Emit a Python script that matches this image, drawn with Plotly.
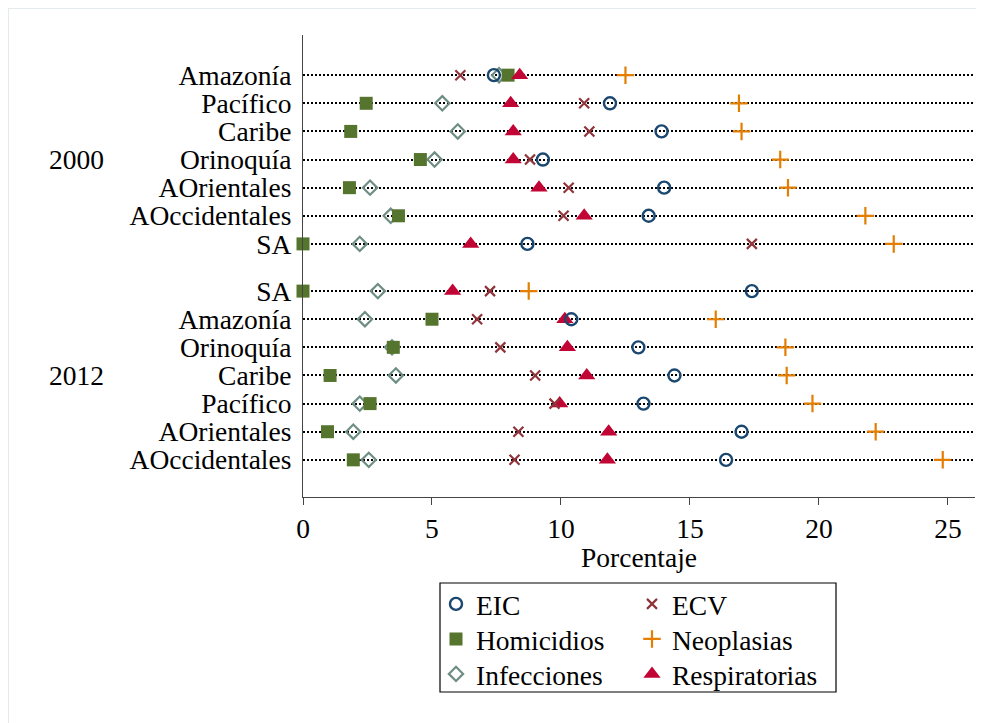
import plotly.graph_objects as go

# ---- data ----
groups = ["2000", "2012"]
cats_2000 = ["Amazonía", "Pacífico", "Caribe", "Orinoquía", "AOrientales", "AOccidentales", "SA"]
cats_2012 = ["SA", "Amazonía", "Orinoquía", "Caribe", "Pacífico", "AOrientales", "AOccidentales"]

eic_2000 = [7.4, 11.9, 13.9, 9.3, 14.0, 13.4, 8.7]
ecv_2000 = [6.1, 10.9, 11.1, 8.8, 10.3, 10.1, 17.4]
hom_2000 = [7.95, 2.45, 1.85, 4.55, 1.8, 3.7, 0.0]
neo_2000 = [12.5, 16.9, 17.0, 18.5, 18.8, 21.8, 22.9]
inf_2000 = [7.6, 5.4, 6.0, 5.1, 2.6, 3.4, 2.2]
resp_2000 = [8.4, 8.05, 8.15, 8.15, 9.15, 10.9, 6.5]

eic_2012 = [17.4, 10.4, 13.0, 14.4, 13.2, 17.0, 16.4]
ecv_2012 = [7.25, 6.75, 7.65, 9.0, 9.75, 8.35, 8.2]
hom_2012 = [0.0, 5.0, 3.5, 1.05, 2.6, 0.95, 1.95]
neo_2012 = [8.75, 16.0, 18.7, 18.75, 19.75, 22.2, 24.8]
inf_2012 = [2.9, 2.4, 3.45, 3.6, 2.2, 1.95, 2.55]
resp_2012 = [5.8, 10.15, 10.25, 11.0, 9.95, 11.85, 11.8]

x_ticks = [0, 5, 10, 15, 20, 25]
x_title = "Porcentaje"

# ---- layout of rows (category positions) ----
GAP = 47 / 28  # extra spacing between groups, in row units
pos_2000 = [i for i in range(len(cats_2000))]
start2 = pos_2000[-1] + GAP
pos_2012 = [start2 + i for i in range(len(cats_2012))]
ypos = pos_2000 + pos_2012
ylabels = cats_2000 + cats_2012

FONT = "Liberation Serif"
FS = 27.5

ML, MR, MT, MB = 295, 17, 27, 234
PW = 984 - ML - MR
PH = 723 - MT - MB

def px_x(xs):  # screen x (with 8px page offset) -> paper
    return (xs - 8 - ML) / PW

def px_y(ys):
    return (723 - MB - (ys - 8)) / PH

# legend slots: (column x of symbol box left, row center y) in screen px
col_x = [436, 632]
row_y = [604, 639, 674]

series = [
    # name, values2000, values2012, color, symbol, size, line width, (col,row)
    ("Infecciones", inf_2000, inf_2012, "#6e8e84", "diamond-open", 11, 2.2, (0, 2)),
    ("Homicidios", hom_2000, hom_2012, "#55752f", "square", 13, 0, (0, 1)),
    ("Respiratorias", resp_2000, resp_2012, "#c10534", "triangle-up", 15, 0, (1, 2)),
    ("ECV", ecv_2000, ecv_2012, "#90353b", "x-thin-open", 10, 2.2, (1, 0)),
    ("EIC", eic_2000, eic_2012, "#1a476f", "circle-open", 12, 2.4, (0, 0)),
    ("Neoplasias", neo_2000, neo_2012, "#e37e00", "cross-thin-open", 12.5, 2.2, (1, 1)),
]

fig = go.Figure()
legends = {}
for k, (name, v0, v1, col, sym, size, lw, slot) in enumerate(series):
    marker = dict(symbol=sym, size=size, color=col)
    if lw:
        marker["line"] = dict(color=col, width=lw)
    lname = "legend" if k == 0 else f"legend{k + 1}"
    fig.add_trace(go.Scatter(
        x=list(v0) + list(v1), y=ypos, mode="markers", name=name,
        marker=marker, legend=lname, cliponaxis=False,
    ))
    legends[lname] = dict(x=px_x(col_x[slot[0]]), y=px_y(row_y[slot[1]]),
                          xanchor="left", yanchor="middle", bgcolor="rgba(0,0,0,0)",
                          borderwidth=0, font=dict(size=FS), itemwidth=30)

top = -40 / 28
bottom = pos_2012[-1] + 37 / 28

fig.update_layout(
    width=984, height=723,
    margin=dict(l=ML, r=MR, t=MT, b=MB),
    paper_bgcolor="white", plot_bgcolor="white",
    font=dict(family=FONT, size=FS, color="black"),
    xaxis=dict(
        range=[0, 26.05], tickvals=x_ticks, ticks="outside", ticklen=7,
        tickcolor="#444", tickwidth=1, showline=True, linecolor="#444", linewidth=1.2,
        showgrid=False, zeroline=False, tickfont=dict(size=FS),
    ),
    yaxis=dict(
        range=[bottom, top], tickvals=ypos, ticktext=ylabels, ticks="",
        showline=True, linecolor="#444", linewidth=1.2,
        showgrid=True, gridcolor="black", gridwidth=1.5, griddash="1.5px,2.5px",
        zeroline=False, ticklabelstandoff=5, tickfont=dict(size=FS),
    ),
    showlegend=True,
    **legends,
)

# x-axis title
fig.add_annotation(text=x_title, x=0.5, xref="paper", y=px_y(557), yref="paper",
                   showarrow=False, xanchor="center", yanchor="middle",
                   font=dict(size=FS, family=FONT))

# group labels
mid0 = sum(pos_2000) / len(pos_2000)
mid1 = sum(pos_2012) / len(pos_2012)
for g, m in zip(groups, [mid0, mid1]):
    fig.add_annotation(text=g, x=px_x(77), xref="paper", y=m, yref="y",
                       showarrow=False, xanchor="center", yanchor="middle",
                       font=dict(size=FS, family=FONT))

# legend frame
fig.add_shape(type="rect", xref="paper", yref="paper", x0=px_x(440), x1=px_x(836),
              y0=px_y(692), y1=px_y(583),
              line=dict(color="black", width=1.2), fillcolor="rgba(0,0,0,0)")
# faint outer graph-region frame at figure edge
fig.add_shape(type="rect", xref="paper", yref="paper", x0=px_x(8.5), x1=px_x(1100),
              y0=px_y(1000), y1=px_y(8.5),
              line=dict(color="#e4ebee", width=1.2), fillcolor="rgba(0,0,0,0)", layer="below")

fig.write_html("out.html")
